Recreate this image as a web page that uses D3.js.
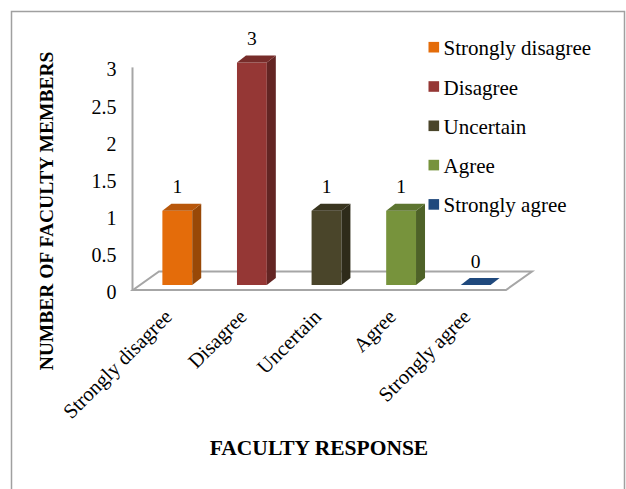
<!DOCTYPE html>
<html>
<head>
<meta charset="utf-8">
<script src="https://cdn.jsdelivr.net/npm/d3@7"></script>
<style>
  html, body { margin: 0; padding: 0; background: #fff; }
  svg { display: block; }
</style>
</head>
<body>
<svg id="chart" width="626" height="489"></svg>
<script>
// Survey responses: number of faculty members per answer
const categories = ["Strongly disagree", "Disagree", "Uncertain", "Agree", "Strongly agree"];
const counts = [1, 3, 1, 1, 0];
const yTicks = [0, 0.5, 1, 1.5, 2, 2.5, 3];
const frontColors = ["#E46C0A", "#953735", "#4A452A", "#77933C", "#1F497D"];
const topColors = ["#B8570A", "#772C2A", "#39351F", "#5D7530", "#17375E"];
const sideColors = ["#984807", "#632523", "#2E2B1A", "#4E6228", "#163A63"];

const FONT = "'Liberation Serif', 'Times New Roman', serif";

const svg = d3.select("#chart");

// outer frame
svg.append("path")
  .attr("d", "M11.5,489 V11.5 H624.5 V489")
  .attr("fill", "none").attr("stroke", "#A0A0A0").attr("stroke-width", 1.5);

// plot geometry (front plane of the floor)
const x0 = 133, x1 = 506;
const depth = { dx: 26, dy: -18.5 };   // floor depth offset
const barDepth = { dx: 9, dy: -7 };    // column depth offset
const barShift = { dx: 7, dy: -5 };    // column front plane inside the floor

const x = d3.scaleBand().domain(categories).range([x0, x1]).paddingInner(0).paddingOuter(0);
const y = d3.scaleLinear().domain([0, 3]).range([290, 67.4]);
const barW = x.bandwidth() * 0.4;

// floor
const g = svg.append("g");
g.append("path")
  .attr("d", `M${x0},${y(0)} L${x1},${y(0)} L${x1 + depth.dx},${y(0) + depth.dy} L${x0 + depth.dx},${y(0) + depth.dy} Z`)
  .attr("fill", "#fff").attr("stroke", "#A6A6A6").attr("stroke-width", 2).attr("stroke-linejoin", "miter");

// vertical axis line
g.append("line")
  .attr("x1", x0 - 0.5).attr("x2", x0 - 0.5)
  .attr("y1", y(3)).attr("y2", y(0))
  .attr("stroke", "#A6A6A6").attr("stroke-width", 2);

// y tick labels
svg.append("g").selectAll("text").data(yTicks).join("text")
  .attr("x", 116.5)
  .attr("y", d => y(d) + 2)
  .attr("text-anchor", "end")
  .attr("dominant-baseline", "central")
  .attr("font-family", FONT)
  .attr("font-size", 20)
  .text(d => d);

// 3D columns
const bars = svg.append("g").selectAll("g").data(categories).join("g");
bars.each(function (c, i) {
  const gb = d3.select(this);
  const left = x(c) + x.bandwidth() / 2 + barShift.dx - barW / 2;
  const right = left + barW;
  const base = y(0) + barShift.dy;
  const top = y(counts[i]) + barShift.dy;
  const dx = barDepth.dx, dy = barDepth.dy;
  if (counts[i] > 0) {
    gb.append("path")
      .attr("d", `M${left},${base} L${right},${base} L${right},${top} L${left},${top} Z`)
      .attr("fill", frontColors[i]);
    gb.append("path")
      .attr("d", `M${right},${base} L${right + dx},${base + dy} L${right + dx},${top + dy} L${right},${top} Z`)
      .attr("fill", sideColors[i]);
  }
  gb.append("path")
    .attr("d", `M${left},${top} L${right},${top} L${right + dx},${top + dy} L${left + dx},${top + dy} Z`)
    .attr("fill", counts[i] > 0 ? topColors[i] : frontColors[i]);

  // value label
  gb.append("text")
    .attr("x", (left + right) / 2)
    .attr("y", top - 17.5)
    .attr("text-anchor", "middle")
    .attr("font-family", FONT)
    .attr("font-size", 19.5)
    .text(counts[i]);
});

// category labels, rotated
svg.append("g").selectAll("text").data(categories).join("text")
  .attr("transform", d => `translate(${x(d) + x.bandwidth() / 2 + 3},${318}) rotate(-45)`)
  .attr("text-anchor", "end")
  .attr("font-family", FONT)
  .attr("font-size", 20.5)
  .text(d => d);

// axis titles
svg.append("text")
  .attr("x", 319).attr("y", 455)
  .attr("text-anchor", "middle")
  .attr("font-family", FONT)
  .attr("font-size", 21.5).attr("font-weight", "bold")
  .text("FACULTY RESPONSE");

svg.append("text")
  .attr("transform", "translate(53,211) rotate(-90)")
  .attr("text-anchor", "middle")
  .attr("font-family", FONT)
  .attr("font-size", 19.5).attr("font-weight", "bold")
  .text("NUMBER OF FACULTY MEMBERS");

// legend
const legend = svg.append("g").selectAll("g").data(categories).join("g")
  .attr("transform", (d, i) => `translate(428.5,${47.2 + i * 39.3})`);
legend.append("rect")
  .attr("x", 0).attr("y", -5.3).attr("width", 10.6).attr("height", 10.6)
  .attr("fill", (d, i) => frontColors[i]);
legend.append("text")
  .attr("x", 15).attr("y", 1)
  .attr("dominant-baseline", "central")
  .attr("font-family", FONT)
  .attr("font-size", 21)
  .text(d => d);
</script>
</body>
</html>
